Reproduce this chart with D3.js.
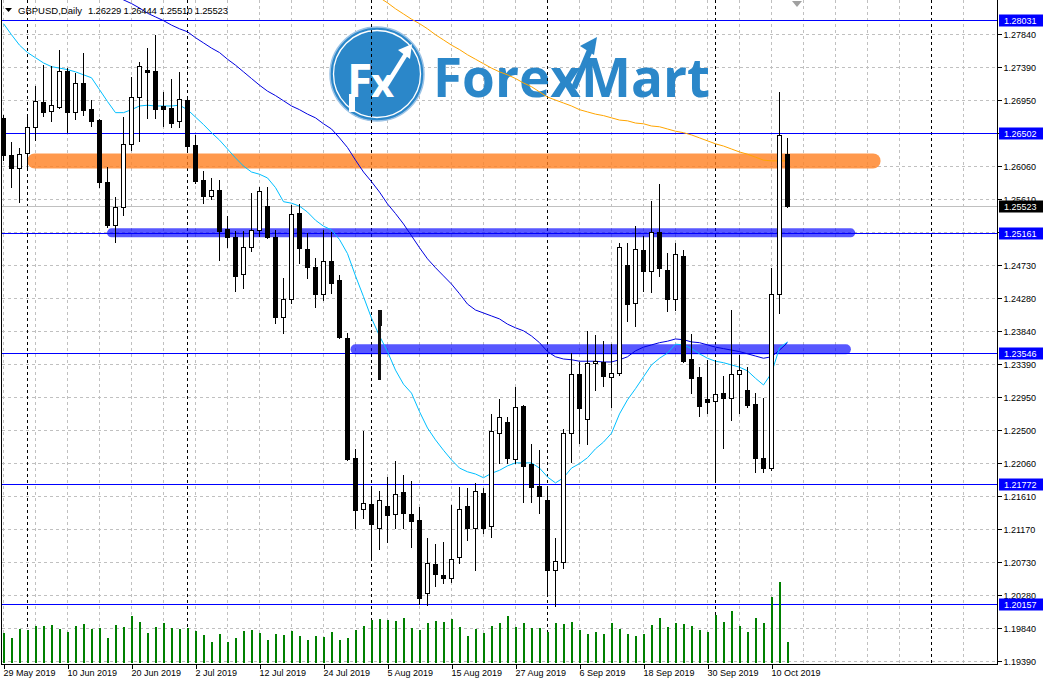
<!DOCTYPE html>
<html><head><meta charset="utf-8">
<script src="https://cdn.jsdelivr.net/npm/d3@7"></script>
<style>
html,body{margin:0;padding:0;background:#fff;}
svg{display:block;}
text{font-family:"Liberation Sans",Arial,sans-serif;}
</style>
</head><body>
<svg id="chart" width="1045" height="679"></svg>
<script>
// ---------------- DATA ----------------
const symbolName = "GBPUSD,Daily";
const open = [1.2671,1.2621,1.2604,1.2624,1.2659,1.2692,1.2680,1.2686,1.2734,1.2679,
1.2718,1.2683,1.2668,1.2585,1.2527,1.2551,1.2636,1.2699,1.2736,1.2734,
1.2687,1.2684,1.2667,1.2695,1.2635,1.2587,1.2566,1.2574,1.2521,1.2511,
1.2461,1.2497,1.2520,1.2552,1.2511,1.2403,1.2427,1.2543,1.2494,1.2470,
1.2434,1.2478,1.2453,1.2374,1.2213,1.2144,1.2151,1.2118,1.2148,1.2137,
1.2167,1.2137,1.2129,1.2031,1.2070,1.2055,1.2051,1.2079,1.2148,1.2118,
1.2165,1.2121,1.2246,1.2261,1.2211,1.2283,1.2205,1.2175,1.2156,1.2062,
1.2072,1.2246,1.2326,1.2265,1.2341,1.2342,1.2322,1.2327,1.2473,1.2422,
1.2493,1.2465,1.2517,1.2466,1.2427,1.2485,1.2346,1.2322,1.2292,1.2289,
1.2300,1.2293,1.2326,1.2304,1.2285,1.2213,1.2199,1.2434,1.26229];
const high = [1.2675,1.2639,1.2631,1.2672,1.2714,1.2742,1.2741,1.2763,1.2738,1.2732,
1.2759,1.2695,1.2670,1.2605,1.2564,1.2672,1.2726,1.2746,1.2765,1.2783,
1.2706,1.2724,1.2733,1.2698,1.2648,1.2599,1.2590,1.2587,1.2539,1.2519,
1.2519,1.2570,1.2578,1.2578,1.2520,1.2455,1.2554,1.2555,1.2516,1.2482,
1.2520,1.2517,1.2459,1.2381,1.2225,1.2249,1.2172,1.2168,1.2187,1.2209,
1.2190,1.2182,1.2147,1.2105,1.2097,1.2099,1.2149,1.2174,1.2172,1.2179,
1.2172,1.2272,1.2292,1.2268,1.2308,1.2284,1.2231,1.2223,1.2172,1.2105,
1.2252,1.2354,1.2342,1.2384,1.2378,1.2370,1.2366,1.2502,1.2502,1.2525,
1.2512,1.2559,1.2582,1.2489,1.2502,1.2493,1.2380,1.2335,1.2345,1.2345,
1.2323,1.2412,1.2351,1.2335,1.2300,1.2293,1.2469,1.2706,1.26444];
const low = [1.2614,1.2578,1.2558,1.2605,1.2641,1.2674,1.2667,1.2684,1.2652,1.2670,
1.2675,1.2660,1.2578,1.2524,1.2504,1.2540,1.2628,1.2640,1.2671,1.2671,
1.2660,1.2659,1.2659,1.2628,1.2583,1.2556,1.2562,1.2480,1.2497,1.2438,
1.2442,1.2492,1.2512,1.2509,1.2395,1.2381,1.2422,1.2475,1.2455,1.2416,
1.2426,1.2435,1.2374,1.2210,1.2118,1.2132,1.2078,1.2090,1.2099,1.2118,
1.2118,1.2093,1.2016,1.2014,1.2040,1.2044,1.2045,1.2071,1.2102,1.2062,
1.2112,1.2106,1.2206,1.2206,1.2206,1.2153,1.2153,1.2138,1.2028,1.2013,
1.2064,1.2207,1.2233,1.2231,1.2304,1.2310,1.2281,1.2324,1.2397,1.2391,
1.2438,1.2436,1.2458,1.2411,1.2412,1.2342,1.2300,1.2269,1.2273,1.2184,
1.2226,1.2264,1.2273,1.2281,1.2194,1.2194,1.2196,1.2408,1.25510];
const close = [1.2621,1.2604,1.2622,1.2659,1.2694,1.2679,1.2688,1.2734,1.2679,1.2718,
1.2682,1.2667,1.2585,1.2527,1.2551,1.2636,1.2699,1.2741,1.2733,1.2683,
1.2683,1.2664,1.2697,1.2633,1.2586,1.2566,1.2574,1.2519,1.2511,1.2458,
1.2497,1.2520,1.2573,1.2511,1.2403,1.2427,1.2542,1.2496,1.2470,1.2434,
1.2478,1.2449,1.2376,1.2211,1.2143,1.2152,1.2124,1.2156,1.2136,1.2164,
1.2138,1.2128,1.2024,1.2071,1.2056,1.2051,1.2076,1.2144,1.2118,1.2168,
1.2118,1.2249,1.2268,1.2213,1.2281,1.2202,1.2174,1.2161,1.2062,1.2074,
1.2246,1.2326,1.2280,1.2341,1.2343,1.2323,1.2327,1.2497,1.2420,1.2494,
1.2465,1.2517,1.2469,1.2427,1.2488,1.2343,1.2320,1.2283,1.2288,1.2299,
1.2293,1.2326,1.2331,1.2284,1.2213,1.2199,1.2434,1.2648,1.25523];
const volume = [30,25,34,33,37,37,38,34,31,37,39,34,35,25,38,36,47,41,30,36,
40,35,34,35,32,28,21,29,21,25,32,33,30,23,29,28,32,27,23,27,
26,31,23,25,33,37,43,44,43,42,45,35,33,40,42,41,44,36,27,34,
30,37,40,47,36,40,35,35,31,40,39,41,33,29,31,29,40,34,29,27,
29,38,45,36,40,39,37,33,31,48,41,52,37,31,45,40,66,81,21].map(v => v * 1000);

// moving averages
const maFast = [1.2798,1.2783,1.2769,1.2759,1.2752,1.2745,1.2740,1.2738,1.2736,1.2733,
1.2729,1.2725,1.2709,1.2693,1.2678,1.2678,1.2682,1.2687,1.2688,1.2687,
1.2687,1.2687,1.2688,1.2682,1.2672,1.2662,1.2651,1.2641,1.2629,1.2617,
1.2606,1.2598,1.2595,1.2590,1.2577,1.2558,1.2556,1.2552,1.2544,1.2533,
1.2525,1.2520,1.2507,1.2488,1.2458,1.2430,1.2401,1.2377,1.2356,1.2331,
1.2312,1.2300,1.2275,1.2253,1.2237,1.2223,1.2210,1.2199,1.2194,1.2191,
1.2186,1.2192,1.2196,1.2202,1.2206,1.2206,1.2206,1.2199,1.2187,1.2179,
1.2186,1.2199,1.2205,1.2213,1.2225,1.2234,1.2246,1.2272,1.2291,1.2306,
1.2322,1.2338,1.2347,1.2354,1.2366,1.2365,1.2360,1.2353,1.2347,1.2343,
1.2341,1.2338,1.2335,1.2330,1.2320,1.2311,1.2327,1.2361,1.2369];
const maMidStart = 14;
const maMid = [1.2835,1.2830,1.2825,1.2819,1.2812,1.2807,1.2802,1.2796,1.2791,1.2787,
1.2779,1.2772,1.2765,1.2759,1.2750,1.2742,1.2733,1.2724,1.2715,1.2707,
1.2701,1.2694,1.2687,1.2682,1.2676,1.2671,1.2663,1.2656,1.2644,1.2631,
1.2614,1.2598,1.2585,1.2571,1.2555,1.2542,1.2528,1.2512,1.2496,1.2481,
1.2469,1.2458,1.2447,1.2434,1.2420,1.2412,1.2408,1.2404,1.2400,1.2393,
1.2388,1.2384,1.2377,1.2368,1.2356,1.2349,1.2346,1.2345,1.2343,1.2343,
1.2343,1.2342,1.2342,1.2345,1.2349,1.2357,1.2362,1.2365,1.2368,1.2370,
1.2373,1.2372,1.2369,1.2368,1.2365,1.2362,1.2360,1.2358,1.2356,1.2353,
1.2350,1.2347,1.2349,1.2358,1.2368];
const maSlowStart = 47;
const maSlow = [1.2833,1.2826,1.2818,1.2811,1.2804,1.2798,1.2791,1.2783,1.2776,1.2769,
1.2763,1.2756,1.2750,1.2744,1.2738,1.2733,1.2729,1.2724,1.2718,1.2713,
1.2706,1.2699,1.2695,1.2691,1.2687,1.2682,1.2679,1.2676,1.2674,1.2671,
1.2668,1.2667,1.2664,1.2663,1.2660,1.2659,1.2656,1.2653,1.2651,1.2648,
1.2644,1.2640,1.2636,1.2633,1.2629,1.2625,1.2622,1.2618,1.2614,1.2613,
1.2613,1.2613];

// axis ticks
const priceTicks = [1.19390,1.19840,1.20280,1.20730,1.21170,1.21610,1.22060,1.22500,1.22950,1.23390,
1.23840,1.24280,1.24730,1.25170,1.25610,1.26060,1.26500,1.26950,1.27390,1.27840];
const dateTickBars = [0,8,16,24,32,40,48,56,64,72,80,88,96];
const dateTickLabels = ["29 May 2019","10 Jun 2019","20 Jun 2019","2 Jul 2019","12 Jul 2019","24 Jul 2019",
"5 Aug 2019","15 Aug 2019","27 Aug 2019","6 Sep 2019","18 Sep 2019","30 Sep 2019","10 Oct 2019"];
const gridBars = d3.range(0, 121, 4);
const monthSeparatorBars = [3, 23, 46, 68, 89, 116];

// horizontal levels and drawn zones
const levelPrices = [1.28031, 1.26502, 1.25161, 1.23546, 1.21772, 1.20157];
const bidPrice = 1.25523;
const zoneFrom = [3.9, 13.5, 44.0];
const zoneTo = [108.7, 105.9, 105.3];
const zonePrice = [1.2613, 1.2516, 1.2359];
const markerBar = 47, markerTop = 1.2412, markerMid = 1.2390, markerBottom = 1.2318;

// ---------------- DRAW ----------------
const svg = d3.select("#chart");
const plotL = 2, plotR = 997, plotT = 0, plotB = 664;
const x = d3.scaleLinear().domain([0, 124]).range([3.5, 995.5]);
const y = d3.scaleLinear().domain([1.19390, 1.27840]).range([661, 34]);
const yv = d3.scaleLinear().domain([0, 100000]).range([663, 563]);
const snap = v => Math.round(v) + 0.5;

svg.append("rect").attr("width", 1045).attr("height", 679).attr("fill", "#fff");
svg.append("defs").append("clipPath").attr("id", "plotclip")
  .append("rect").attr("x", plotL).attr("y", plotT).attr("width", plotR - plotL).attr("height", plotB - plotT);
const plot = svg.append("g").attr("clip-path", "url(#plotclip)");

// grid
const grid = plot.append("g").attr("stroke", "#c0c0c0").attr("stroke-dasharray", "3,3").attr("shape-rendering", "crispEdges");
grid.selectAll("line.h").data(priceTicks).join("line").attr("class", "h")
  .attr("x1", plotL).attr("x2", plotR).attr("y1", d => snap(y(d))).attr("y2", d => snap(y(d)));
grid.selectAll("line.v").data(gridBars).join("line").attr("class", "v")
  .attr("x1", d => x(d)).attr("x2", d => x(d)).attr("y1", plotT).attr("y2", plotB);

// watermark logo
const logo = plot.append("g");
const blueLogo = "#2b87c9";
logo.append("circle").attr("cx", 377).attr("cy", 74).attr("r", 47).attr("fill", blueLogo).attr("stroke", "#9cc3e6").attr("stroke-width", 1.5);
logo.append("circle").attr("cx", 377).attr("cy", 74).attr("r", 43.5).attr("fill", "none").attr("stroke", "#fff").attr("stroke-width", 1.3);
logo.append("text").attr("x", 347).attr("y", 97).attr("fill", "#fff").style("font-family", "'Open Sans',sans-serif")
  .style("font-weight", 700).style("font-size", "46px").text("F");
logo.append("rect").attr("x", 349).attr("y", 94).attr("width", 6).attr("height", 18).attr("fill", "#fff");
logo.append("text").attr("x", 371).attr("y", 97).attr("fill", "#fff").style("font-family", "'Open Sans',sans-serif")
  .style("font-weight", 700).style("font-size", "40px").text("x");
logo.append("line").attr("x1", 386).attr("y1", 86).attr("x2", 406).attr("y2", 54).attr("stroke", "#fff").attr("stroke-width", 4.5);
logo.append("polygon").attr("points", "412,44 398,50 410,59").attr("fill", "#fff");
logo.append("text").attr("x", 433).attr("y", 97).attr("fill", blueLogo).style("font-family", "'Open Sans',sans-serif")
  .style("font-weight", 700).style("font-size", "54px").attr("textLength", 277).attr("lengthAdjust", "spacingAndGlyphs").text("ForexMart");
logo.append("line").attr("x1", 574).attr("y1", 88).attr("x2", 590).attr("y2", 50).attr("stroke", blueLogo).attr("stroke-width", 6);
logo.append("polygon").attr("points", "597,37 580,46 594,55").attr("fill", blueLogo);

// month separators
plot.append("g").attr("stroke", "#000").attr("stroke-dasharray", "3,3").attr("shape-rendering", "crispEdges")
  .selectAll("line").data(monthSeparatorBars).join("line")
  .attr("x1", d => x(d)).attr("x2", d => x(d)).attr("y1", plotT).attr("y2", plotB);

// bid line
plot.append("line").attr("x1", plotL).attr("x2", plotR).attr("y1", snap(y(bidPrice))).attr("y2", snap(y(bidPrice)))
  .attr("stroke", "#c0c0c0").attr("shape-rendering", "crispEdges");

// horizontal levels
plot.append("g").attr("stroke", "#0000ff").attr("shape-rendering", "crispEdges")
  .selectAll("line").data(levelPrices).join("line")
  .attr("x1", plotL).attr("x2", plotR).attr("y1", d => snap(y(d))).attr("y2", d => snap(y(d)));

// drawn zones
const zoneColors = ["rgba(255,128,32,0.8)", "rgba(0,0,255,0.66)", "rgba(0,0,255,0.66)"];
const zoneWidths = [15, 9, 10];
plot.append("g").selectAll("line").data(zonePrice).join("line")
  .attr("x1", (d, i) => x(zoneFrom[i])).attr("x2", (d, i) => x(zoneTo[i]))
  .attr("y1", d => y(d)).attr("y2", d => y(d))
  .attr("stroke", (d, i) => zoneColors[i]).attr("stroke-width", (d, i) => zoneWidths[i]).attr("stroke-linecap", "round");

// volumes
const bars = d3.range(open.length).map(i => ({ i, o: open[i], h: high[i], l: low[i], c: close[i], v: volume[i] }));
plot.append("g").selectAll("rect").data(bars).join("rect")
  .attr("x", d => x(d.i) - 0.5).attr("width", 2)
  .attr("y", d => Math.round(yv(d.v))).attr("height", d => 663 - Math.round(yv(d.v)))
  .attr("fill", "#008000").attr("shape-rendering", "crispEdges");

// moving averages
const line = d3.line().x(d => x(d[0])).y(d => y(d[1]));
plot.append("path").attr("d", line(maSlow.map((v, k) => [maSlowStart + k, v])))
  .attr("fill", "none").attr("stroke", "#ffa500").attr("stroke-width", 1);
plot.append("path").attr("d", line(maMid.map((v, k) => [maMidStart + k, v])))
  .attr("fill", "none").attr("stroke", "#0000e0").attr("stroke-width", 1);
plot.append("path").attr("d", line(maFast.map((v, k) => [k, v])))
  .attr("fill", "none").attr("stroke", "#00bfff").attr("stroke-width", 1);

// candles
const cg = plot.append("g").attr("shape-rendering", "crispEdges");
cg.selectAll("line").data(bars).join("line")
  .attr("x1", d => x(d.i)).attr("x2", d => x(d.i))
  .attr("y1", d => Math.round(y(d.h))).attr("y2", d => Math.round(y(d.l)) + 1)
  .attr("stroke", "#000");
cg.selectAll("rect").data(bars).join("rect")
  .attr("x", d => x(d.i) - 2).attr("width", 4)
  .attr("y", d => snap(y(Math.max(d.o, d.c))))
  .attr("height", d => Math.max(0, Math.round(y(Math.min(d.o, d.c))) - Math.round(y(Math.max(d.o, d.c)))))
  .attr("fill", d => d.c >= d.o ? "#fff" : "#000").attr("stroke", "#000");

// stray marker
cg.append("rect").attr("x", x(markerBar) - 2).attr("width", 4).attr("y", y(markerTop)).attr("height", y(markerMid) - y(markerTop)).attr("fill", "#111");
cg.append("rect").attr("x", x(markerBar) - 1.5).attr("width", 3).attr("y", y(markerMid)).attr("height", y(markerBottom) - y(markerMid)).attr("fill", "#111");

// frame
svg.append("g").attr("stroke", "#000").attr("shape-rendering", "crispEdges").call(g => {
  g.append("line").attr("x1", 1.5).attr("x2", 1.5).attr("y1", 0).attr("y2", plotB + 0.5);
  g.append("line").attr("x1", 1.5).attr("x2", plotR + 0.5).attr("y1", plotB + 0.5).attr("y2", plotB + 0.5);
  g.append("line").attr("x1", plotR + 0.5).attr("x2", plotR + 0.5).attr("y1", 0).attr("y2", plotB + 0.5);
});

// right axis
const yAxis = d3.axisRight(y).tickValues(priceTicks).tickFormat(d3.format(".5f")).tickSize(4).tickPadding(2);
const ya = svg.append("g").attr("transform", `translate(${plotR + 0.5},0)`).call(yAxis);
ya.select(".domain").remove();
ya.selectAll(".tick").attr("transform", d => `translate(0,${snap(y(d))})`);
ya.selectAll(".tick line").attr("stroke", "#000").attr("shape-rendering", "crispEdges");
ya.selectAll(".tick text").attr("fill", "#000").style("font-size", "9px").style("font-family", "'Liberation Sans',Arial,sans-serif").attr("dy", "0.35em");

// price boxes
const boxes = levelPrices.map(p => ({ p, bg: "#0000ff" })).concat([{ p: bidPrice, bg: "#000" }]);
const bx = svg.append("g").selectAll("g").data(boxes).join("g").attr("transform", d => `translate(0,${snap(y(d.p))})`);
bx.append("rect").attr("x", 999).attr("y", -6).attr("width", 44).attr("height", 12).attr("fill", d => d.bg);
bx.append("text").attr("x", 1004).attr("y", 0).attr("dy", "0.35em").attr("fill", "#fff").style("font-size", "9px").text(d => d3.format(".5f")(d.p));

// bottom axis
const xAxis = d3.axisBottom(x).tickValues(dateTickBars).tickFormat((d, i) => dateTickLabels[i]).tickSize(4).tickPadding(1);
const xa = svg.append("g").attr("transform", `translate(0,${plotB + 0.5})`).call(xAxis);
xa.select(".domain").remove();
xa.selectAll(".tick line").attr("stroke", "#000").attr("shape-rendering", "crispEdges");
xa.selectAll(".tick text").attr("fill", "#000").attr("text-anchor", "start").style("font-size", "9px")
  .style("font-family", "'Liberation Sans',Arial,sans-serif").attr("dx", "-0.5");

// title
const last = bars[bars.length - 1];
svg.append("polygon").attr("points", "5,8 12,8 8.5,12").attr("fill", "#000");
svg.append("text").attr("x", 18).attr("y", 14).style("font-size", "9.5px").attr("fill", "#000")
  .attr("textLength", 64).attr("lengthAdjust", "spacingAndGlyphs").text(symbolName);
svg.append("text").attr("x", 88).attr("y", 14).style("font-size", "9.5px").attr("fill", "#000")
  .attr("textLength", 140).attr("lengthAdjust", "spacing")
  .text([last.o, last.h, last.l, last.c].map(d3.format(".5f")).join(" "));
// chart shift marker
svg.append("polygon").attr("points", "792,1 802,1 797,7").attr("fill", "#a0a0a0");
</script>
</body></html>
